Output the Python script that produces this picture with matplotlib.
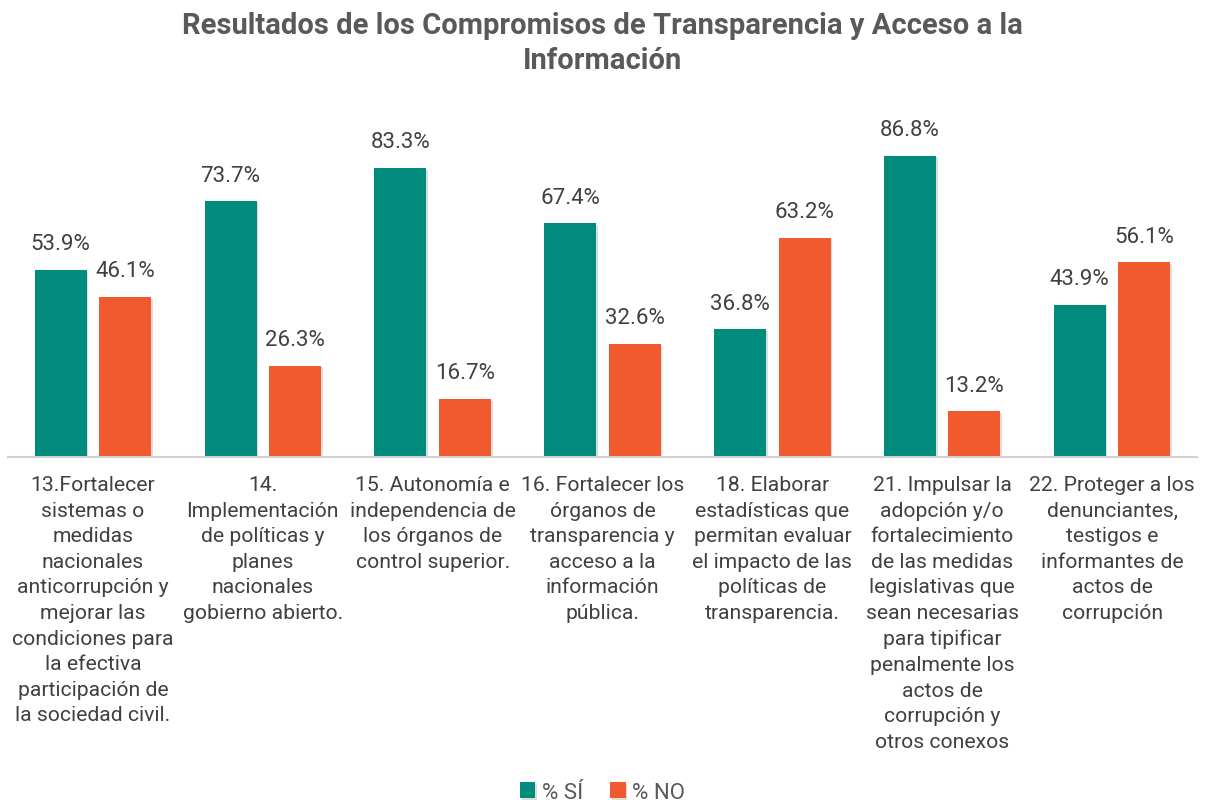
import numpy as np
import matplotlib.pyplot as plt
import matplotlib.patheffects as pe

categories = [
    "13.Fortalecer\nsistemas o\nmedidas\nnacionales\nanticorrupción y\nmejorar las\ncondiciones para\nla efectiva\nparticipación de\nla sociedad civil.",
    "14.\nImplementación\nde políticas y\nplanes\nnacionales\ngobierno abierto.",
    "15. Autonomía e\nindependencia de\nlos órganos de\ncontrol superior.",
    "16. Fortalecer los\nórganos de\ntransparencia y\nacceso a la\ninformación\npública.",
    "18. Elaborar\nestadísticas que\npermitan evaluar\nel impacto de las\npolíticas de\ntransparencia.",
    "21. Impulsar la\nadopción y/o\nfortalecimiento\nde las medidas\nlegislativas que\nsean necesarias\npara tipificar\npenalmente los\nactos de\ncorrupción y\notros conexos",
    "22. Proteger a los\ndenunciantes,\ntestigos e\ninformantes de\nactos de\ncorrupción",
]
si_vals = [53.9, 73.7, 83.3, 67.4, 36.8, 86.8, 43.9]
no_vals = [46.1, 26.3, 16.7, 32.6, 63.2, 13.2, 56.1]

plt.rcParams['font.family'] = ['Roboto', 'DejaVu Sans']

teal = '#008B7D'
orange = '#F15A2E'
txt = '#404040'

fig = plt.figure(figsize=(12.05, 8.04), dpi=100)
ax = fig.add_axes([8 / 1205, (804 - 458) / 804, 1189 / 1205, 347 / 804])

x = np.arange(len(categories))
w = 0.306
shadow = [pe.SimplePatchShadow(offset=(1.2, -1.2), alpha=0.15), pe.Normal()]
b1 = ax.bar(x - 0.19, si_vals, w, color=teal, label='% SÍ', path_effects=shadow)
b2 = ax.bar(x + 0.19, no_vals, w, color=orange, label='% NO', path_effects=shadow)

for bars, vals in [(b1, si_vals), (b2, no_vals)]:
    for b, v in zip(bars, vals):
        ax.text(b.get_x() + b.get_width() / 2, v + 4.5, f'{v:.1f}%',
                ha='center', va='bottom', fontsize=16, color=txt)

ax.set_xlim(-0.5, len(categories) - 0.5)
ax.set_ylim(0, 100)
ax.set_yticks([])
ax.set_xticks(x)
ax.set_xticklabels(categories, fontsize=15.2, color=txt, linespacing=1.44, va='top')
ax.tick_params(axis='x', length=0, pad=13)
for s in ['top', 'right', 'left']:
    ax.spines[s].set_visible(False)
ax.spines['bottom'].set_color('#d0d0d0')
ax.spines['bottom'].set_linewidth(1.5)

fig.text(0.5, 0.985, 'Resultados de los Compromisos de Transparencia y Acceso a la\nInformación',
         ha='center', va='top', fontsize=21, fontweight='bold', color='#595959', linespacing=1.3)

fig.legend(handles=[b1, b2], loc='center', bbox_to_anchor=(0.5, 0.013), ncol=2,
           frameon=False, fontsize=16, labelcolor='#595959', handlelength=0.7,
           handleheight=0.7, handletextpad=0.3, columnspacing=1.2)

fig.savefig('out.png', dpi=100)
